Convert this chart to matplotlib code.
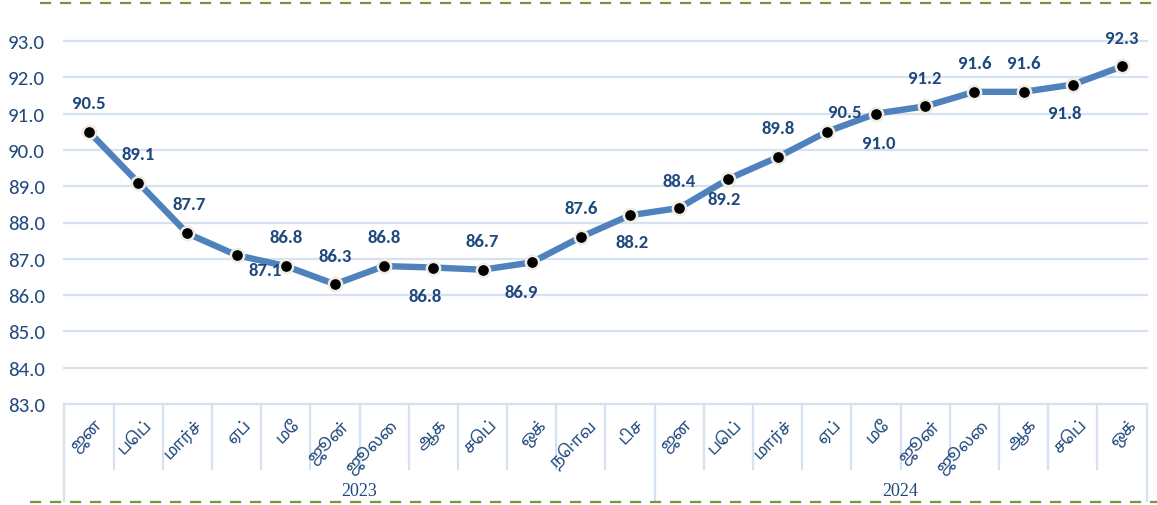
import matplotlib
matplotlib.use("Agg")
import matplotlib.pyplot as plt
from matplotlib.lines import Line2D
from matplotlib.ticker import FixedLocator, FormatStrFormatter
import matplotlib.transforms as mtrans

# ---- data ----
months = ["ஜன", "பெப்", "மார்ச்", "ஏப்", "மே", "ஜூன்", "ஜூலை", "ஆக", "செப்", "ஒக்", "நொவ", "டிச",
          "ஜன", "பெப்", "மார்ச்", "ஏப்", "மே", "ஜூன்", "ஜூலை", "ஆக", "செப்", "ஒக்"]
years = ["2023", "2024"]
year_counts = [12, 10]
values = [90.5, 89.1, 87.7, 87.1, 86.8, 86.3, 86.8, 86.76, 86.7, 86.9, 87.6, 88.2,
          88.4, 89.2, 89.8, 90.5, 91.0, 91.2, 91.6, 91.6, 91.8, 92.3]
y_ticks = [83, 84, 85, 86, 87, 88, 89, 90, 91, 92, 93]

# label offsets in pixels (dx, dy; dy positive = up)
label_offsets = [(0, 29), (0, 29), (2, 29), (29, -15), (0, 29), (0, 28), (0, 29), (-8, -28),
                 (0, 29), (-11, -30), (0, 29), (2, -27), (0, 27), (-4, -20), (0, 29), (18, 20),
                 (3, -29), (0, 28), (0, 29), (0, 29), (-8, -28), (0, 28)]

W, H = 1157, 506
fig = plt.figure(figsize=(W / 100, H / 100), dpi=100)
L, R, T, B = 64.4, 1146.6, 42, 405
ax = fig.add_axes([L / W, 1 - B / H, (R - L) / W, (B - T) / H])

TXT = "#1f497d"
GRID = "#d6e1f1"
LINE = "#4f81bd"
tamil_fam = ["Noto Sans Tamil", "Lohit Tamil", "FreeSerif", "DejaVu Sans"]
num_fam = ["Carlito", "Lato", "DejaVu Sans"]
serif_fam = ["Liberation Serif", "DejaVu Serif"]

x = list(range(len(values)))
ax.set_xlim(-0.5, len(values) - 0.5)
ax.set_ylim(y_ticks[0], y_ticks[-1])

for yt in y_ticks:
    ax.axhline(yt, color=GRID, lw=1.6, zorder=0, clip_on=False)

ax.plot(x, values, color=LINE, lw=4.6, zorder=2, solid_capstyle="round")
ax.plot(x, values, ls="none", marker="o", ms=9.5, mfc="black", mec="#efede2", mew=1.8, zorder=3)

for xi, v, (dx, dy) in zip(x, values, label_offsets):
    ax.annotate(f"{v:.1f}", (xi, v), xytext=(dx * 0.72, dy * 0.72), textcoords="offset points",
                ha="center", va="center", fontsize=13.5, fontweight="bold", color=TXT,
                family=num_fam, zorder=4)

for s in ax.spines.values():
    s.set_visible(False)
ax.yaxis.set_major_locator(FixedLocator(y_ticks))
ax.yaxis.set_major_formatter(FormatStrFormatter("%.1f"))
ax.tick_params(axis="y", length=0, pad=14, labelsize=15, labelcolor=TXT)
for lab in ax.get_yticklabels():
    lab.set_family(num_fam)
ax.set_xticks([])

# category axis
trans = mtrans.blended_transform_factory(ax.transData, ax.transAxes)
ah = B - T
bounds = [0]
for c in year_counts:
    bounds.append(bounds[-1] + c)
for k in range(len(values) + 1):
    depth = 97 if k in bounds else 65
    ax.add_line(Line2D([k - 0.5, k - 0.5], [0, -depth / ah], transform=trans, color=GRID,
                       lw=1.6, clip_on=False))

for xi, m in zip(x, months):
    ax.text(xi + 0.12, -12 / ah, m, transform=trans, rotation=45, rotation_mode="anchor",
            ha="right", va="top", fontsize=12, color=TXT, family=tamil_fam)

for i, yr in enumerate(years):
    cx = (bounds[i] + bounds[i + 1]) / 2 - 0.5
    ax.text(cx, -87 / ah, yr, transform=trans, ha="center", va="center", fontsize=13,
            color=TXT, family=serif_fam)

# decorative dashed lines
GREEN = "#77933c"
fig.add_artist(Line2D([40 / W, 1], [1 - 4 / H, 1 - 4 / H], transform=fig.transFigure,
                      color=GREEN, lw=1.6, dashes=(5, 4)))
fig.add_artist(Line2D([30 / W, 1], [1 - 503 / H, 1 - 503 / H], transform=fig.transFigure,
                      color=GREEN, lw=1.6, dashes=(5, 4)))

fig.savefig("out.png", dpi=100)
